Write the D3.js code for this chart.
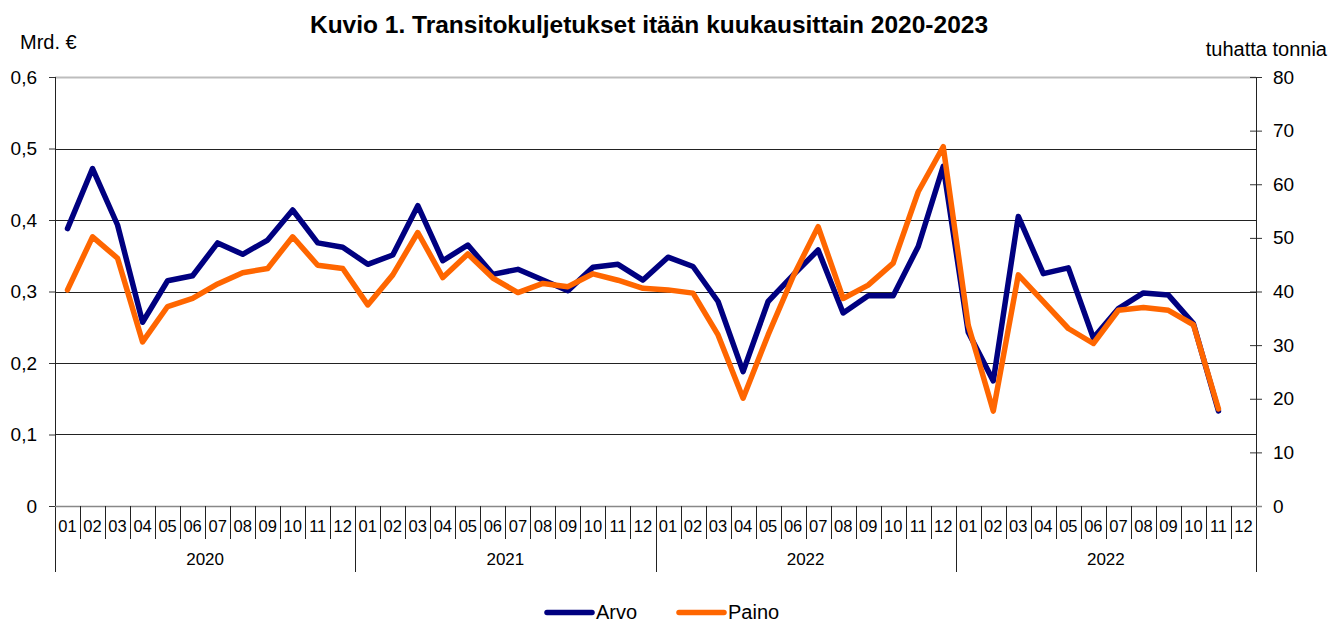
<!DOCTYPE html>
<html>
<head>
<meta charset="utf-8">
<script src="https://cdn.jsdelivr.net/npm/d3@7"></script>
<style>
  body { margin: 0; background: #fff; }
  svg { font-family: "Liberation Sans", Arial, sans-serif; }
</style>
</head>
<body>
<div id="chart"></div>
<script>
// Chart data
var months = ["01","02","03","04","05","06","07","08","09","10","11","12"];
var years = ["2020", "2021", "2022", "2022"];

// Arvo, mrd. euroa (left axis)
var arvo = [0.388,0.472,0.393,0.257,0.315,0.322,0.368,0.352,0.372,0.414,0.368,0.362,
            0.338,0.351,0.420,0.343,0.365,0.324,0.331,0.316,0.301,0.334,0.338,0.316,
            0.348,0.335,0.286,0.188,0.286,0.323,0.358,0.270,0.294,0.294,0.363,0.475,
            0.243,0.175,0.405,0.325,0.333,0.235,0.276,0.298,0.295,0.255,0.133,null];

// Paino, tuhatta tonnia (right axis)
var paino = [40.3,50.2,46.2,30.6,37.2,38.7,41.4,43.5,44.3,50.2,44.9,44.3,
             37.5,43.1,51.0,42.6,47.0,42.5,39.8,41.5,40.9,43.3,42.1,40.6,
             40.3,39.7,31.9,20.1,31.9,42.8,52.1,38.7,41.2,45.3,58.6,67.0,
             33.7,17.7,43.1,38.1,33.1,30.3,36.5,37.0,36.5,33.8,18.1,null];

var leftTicks = [0, 0.1, 0.2, 0.3, 0.4, 0.5, 0.6];
var rightTicks = [0, 10, 20, 30, 40, 50, 60, 70, 80];

var W = 1340, H = 624;
var plot = { left: 55, right: 1256, top: 77, bottom: 506 };

var svg = d3.select("#chart").append("svg")
  .attr("width", W).attr("height", H);

// periods: one per month over all the years
var periods = d3.range(years.length * months.length);

var x = d3.scaleBand().domain(periods).range([plot.left, plot.right]).padding(0);
var bw = x.bandwidth();
var yL = d3.scaleLinear().domain([0, 0.6]).range([plot.bottom, plot.top]);
var yR = d3.scaleLinear().domain([0, 80]).range([plot.bottom, plot.top]);

// title
svg.append("text")
  .attr("x", 649).attr("y", 33)
  .attr("text-anchor", "middle")
  .style("font-size", "24.5px").style("font-weight", "bold")
  .text("Kuvio 1. Transitokuljetukset itään kuukausittain 2020-2023");

svg.append("text").attr("x", 20).attr("y", 49)
  .style("font-size", "20px").text("Mrd. €");
svg.append("text").attr("x", 1327).attr("y", 56)
  .attr("text-anchor", "end")
  .style("font-size", "20px").text("tuhatta tonnia");

// gridlines
svg.append("g").selectAll("line")
  .data(leftTicks.filter(function (d) { return d > 0; }))
  .enter().append("line")
  .attr("x1", plot.left).attr("x2", plot.right)
  .attr("y1", function (d) { return Math.round(yL(d)) + 0.5; })
  .attr("y2", function (d) { return Math.round(yL(d)) + 0.5; })
  .attr("stroke", function (d) { return d === 0.6 ? "#bdbdbd" : "#222"; })
  .attr("stroke-width", function (d) { return d === 0.6 ? 2 : 1; });

// left axis
var leftAxis = d3.axisLeft(yL)
  .tickValues(leftTicks)
  .tickSize(6)
  .tickPadding(12)
  .tickFormat(function (d) { return d === 0 ? "0" : d3.format(".1f")(d).replace(".", ","); });

var gL = svg.append("g")
  .attr("transform", "translate(" + plot.left + ",0)")
  .call(leftAxis);
gL.select(".domain").remove();
gL.selectAll("line").attr("stroke", "#333");
gL.selectAll("text").style("font-size", "19px").attr("fill", "#000");

// right axis, ticks crossing the line
var rightAxis = d3.axisRight(yR)
  .tickValues(rightTicks)
  .tickSize(6)
  .tickPadding(11);

var gR = svg.append("g")
  .attr("transform", "translate(" + plot.right + ",0)")
  .call(rightAxis);
gR.select(".domain").remove();
gR.selectAll(".tick line").attr("x1", -6).attr("stroke", "#333");
gR.selectAll("text").style("font-size", "19px").attr("fill", "#000");

// axis lines, running down through the category labels
svg.append("line")
  .attr("x1", plot.left + 0.5).attr("x2", plot.left + 0.5)
  .attr("y1", plot.top).attr("y2", 572)
  .attr("stroke", "#222");
svg.append("line")
  .attr("x1", plot.right + 0.5).attr("x2", plot.right + 0.5)
  .attr("y1", plot.top).attr("y2", 572)
  .attr("stroke", "#222");
svg.append("line")
  .attr("x1", plot.left).attr("x2", plot.right + 6)
  .attr("y1", plot.bottom + 0.5).attr("y2", plot.bottom + 0.5)
  .attr("stroke", "#888").attr("stroke-width", 1.5);

// month labels and separators
var gX = svg.append("g");
gX.selectAll("line.sep")
  .data(periods.slice(1))
  .enter().append("line")
  .attr("class", "sep")
  .attr("x1", function (d) { return Math.round(x(d)) + 0.5; })
  .attr("x2", function (d) { return Math.round(x(d)) + 0.5; })
  .attr("y1", plot.bottom)
  .attr("y2", function (d) { return d % 12 === 0 ? 572 : 539; })
  .attr("stroke", "#222");

gX.selectAll("text.month")
  .data(periods)
  .enter().append("text")
  .attr("class", "month")
  .attr("x", function (d) { return x(d) + bw / 2; })
  .attr("y", 532)
  .attr("text-anchor", "middle")
  .style("font-size", "16.5px")
  .text(function (d) { return months[d % 12]; });

gX.selectAll("text.year")
  .data(years)
  .enter().append("text")
  .attr("class", "year")
  .attr("x", function (d, i) { return x(i * 12) + bw * 6; })
  .attr("y", 565)
  .attr("text-anchor", "middle")
  .style("font-size", "17px")
  .text(function (d) { return d; });

// lines
var lineL = d3.line()
  .defined(function (d) { return d != null; })
  .x(function (d, i) { return x(i) + bw / 2; })
  .y(function (d) { return yL(d); });

var lineR = d3.line()
  .defined(function (d) { return d != null; })
  .x(function (d, i) { return x(i) + bw / 2; })
  .y(function (d) { return yR(d); });

svg.append("path").datum(arvo)
  .attr("d", lineL)
  .attr("fill", "none")
  .attr("stroke", "#000080")
  .attr("stroke-width", 5.5)
  .attr("stroke-linejoin", "round")
  .attr("stroke-linecap", "round");

svg.append("path").datum(paino)
  .attr("d", lineR)
  .attr("fill", "none")
  .attr("stroke", "#ff6600")
  .attr("stroke-width", 5.5)
  .attr("stroke-linejoin", "round")
  .attr("stroke-linecap", "round");

// legend
var legend = [
  { name: "Arvo", color: "#000080", x: 547 },
  { name: "Paino", color: "#ff6600", x: 679 }
];
var gLeg = svg.append("g");
gLeg.selectAll("line")
  .data(legend)
  .enter().append("line")
  .attr("x1", function (d) { return d.x; })
  .attr("x2", function (d) { return d.x + 45; })
  .attr("y1", 612.5).attr("y2", 612.5)
  .attr("stroke", function (d) { return d.color; })
  .attr("stroke-width", 5.5)
  .attr("stroke-linecap", "round");
gLeg.selectAll("text")
  .data(legend)
  .enter().append("text")
  .attr("x", function (d) { return d.x + 49; })
  .attr("y", 619)
  .style("font-size", "20px")
  .text(function (d) { return d.name; });
</script>
</body>
</html>
